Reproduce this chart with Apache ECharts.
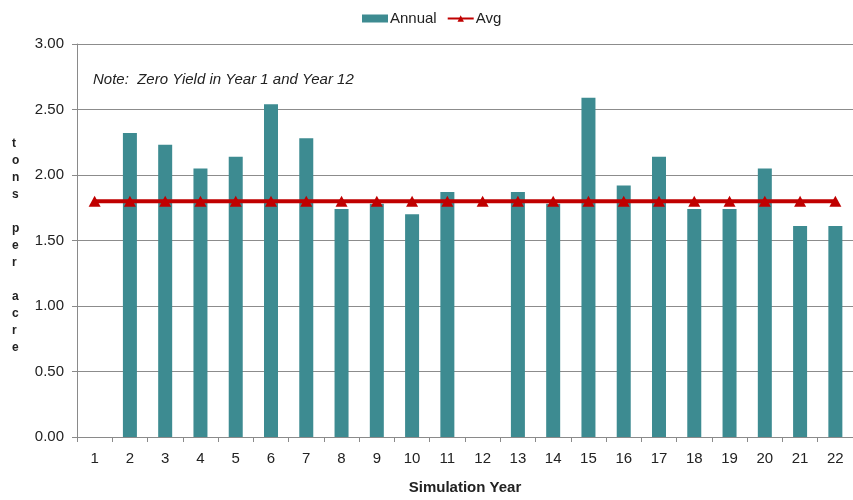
<!DOCTYPE html>
<html>
<head>
<meta charset="utf-8">
<script src="https://cdn.jsdelivr.net/npm/echarts@6/dist/echarts.min.js"></script>
<style>
  html, body { margin: 0; padding: 0; background: #fff; }
  #chart { width: 853px; height: 500px; }
</style>
</head>
<body>
<div id="chart"></div>
<script>
// simulation years
const years = ['1','2','3','4','5','6','7','8','9','10','11','12','13','14','15','16','17','18','19','20','21','22'];
// annual yield, tons per acre (zero in year 1 and 12)
const annual = [0, 2.32, 2.23, 2.05, 2.14, 2.54, 2.28, 1.74, 1.78, 1.70, 1.87, 0, 1.87, 1.78, 2.59, 1.92, 2.14, 1.74, 1.74, 2.05, 1.61, 1.61];
// average over all years
const avg = [1.80, 1.80, 1.80, 1.80, 1.80, 1.80, 1.80, 1.80, 1.80, 1.80, 1.80, 1.80, 1.80, 1.80, 1.80, 1.80, 1.80, 1.80, 1.80, 1.80, 1.80, 1.80];

const font = '"Liberation Sans", Arial, sans-serif';
const yLabel = 'tons per acre'.split('').join('\n');

const myChart = echarts.init(document.getElementById('chart'));
myChart.setOption({
    animation: false,
    textStyle: { fontFamily: font },
    legend: {
        top: 6,
        left: 357,
        itemGap: 10,
        itemWidth: 26,
        itemHeight: 8,
        textStyle: { fontFamily: font, fontSize: 15, color: '#222', padding: [0, 0, 0, -3] },
        data: [
            { name: 'Annual', icon: 'rect', itemStyle: { borderWidth: 0 } },
            { name: 'Avg' }
        ]
    },
    grid: { left: 77, right: -3, top: 44, bottom: 61 },
    xAxis: {
        type: 'category',
        data: years,
        name: 'Simulation Year',
        nameLocation: 'middle',
        nameGap: 43,
        nameTextStyle: { fontFamily: font, fontSize: 15, fontWeight: 'bold', color: '#222' },
        axisLine: { lineStyle: { color: '#8a8a8a', width: 1 } },
        axisTick: { show: true, length: 5, lineStyle: { color: '#8a8a8a' } },
        axisLabel: { fontFamily: font, fontSize: 15, color: '#222', margin: 14 }
    },
    yAxis: {
        type: 'value',
        min: 0,
        max: 3,
        interval: 0.5,
        axisLine: { show: true, lineStyle: { color: '#8a8a8a' } },
        axisTick: { show: true, length: 5, lineStyle: { color: '#8a8a8a' } },
        splitLine: { lineStyle: { color: '#8c8c8c', width: 1 } },
        axisLabel: {
            fontFamily: font, fontSize: 15, color: '#222', margin: 13,
            formatter: v => v.toFixed(2)
        }
    },
    graphic: [
        {
            type: 'text',
            left: 12,
            top: 135,
            style: {
                text: yLabel,
                fontFamily: font,
                fontSize: 12,
                fontWeight: 'bold',
                lineHeight: 17,
                fill: '#222',
                align: 'center'
            }
        },
        {
            type: 'text',
            left: 93,
            top: 72,
            style: {
                text: 'Note:  Zero Yield in Year 1 and Year 12',
                fontFamily: font,
                fontSize: 15,
                fontStyle: 'italic',
                fill: '#222'
            }
        }
    ],
    series: [
        {
            name: 'Annual',
            type: 'bar',
            data: annual,
            barWidth: 14,
            itemStyle: { color: '#3d8b91' }
        },
        {
            name: 'Avg',
            type: 'line',
            data: avg,
            symbol: 'triangle',
            symbolSize: [12, 11],
            lineStyle: { color: '#c00000', width: 4 },
            itemStyle: { color: '#c00000' },
            z: 5
        }
    ]
});

window.onresize = function () {
    myChart.resize();
};
</script>
</body>
</html>
